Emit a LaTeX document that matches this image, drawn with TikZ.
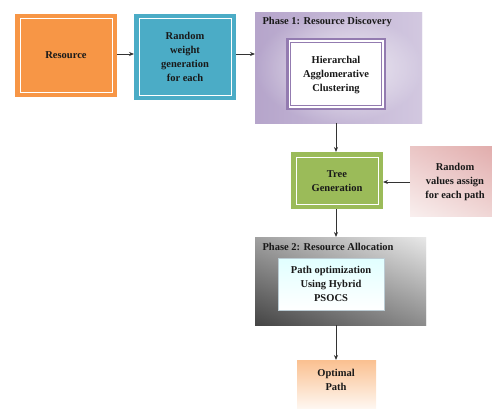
\documentclass[tikz,border=0pt]{standalone}
\usepackage{fontspec}
\setmainfont{Liberation Serif}
\usetikzlibrary{arrows.meta,positioning}
\definecolor{orng}{HTML}{F79646}
\definecolor{blu}{HTML}{4BACC6}
\definecolor{grn}{HTML}{9BBB59}
\definecolor{purp}{HTML}{8064A2}
\definecolor{lpurp}{HTML}{B9A9D0}
\definecolor{pnk}{HTML}{D99594}
\tikzset{
  lbl/.style={font=\fontsize{10.5}{14}\selectfont\bfseries, align=center, text=black!90},
  arr/.style={-{Stealth[length=5pt,width=4pt]}, line width=0.8pt, black!80},
}
\begin{document}
\begin{tikzpicture}[x=1pt,y=1pt]
\useasboundingbox (0,0) rectangle (492,408);
% Resource
\fill[orng] (15,311) rectangle (117,394);
\draw[white, line width=1pt] (20,316) rectangle (112,389);
\node[lbl] (res) at (66,352.5) {Resource};
% Random weight
\fill[blu] (134,308) rectangle (236,394);
\draw[white, line width=1pt] (139,313) rectangle (231,389);
\node[lbl] (rw) at (185,351) {Random\\weight\\generation\\for each};
\coordinate (rwW) at (134,354);
\coordinate (rwE) at (236,354);
\coordinate (resE) at (117,354);
% Phase 1
\shade[inner color=white, outer color=lpurp!80!purp] (255,285) rectangle (422,395);
\shade[left color=purp!50, right color=white, opacity=0.45] (255,285) rectangle (422,395);
\node[lbl, anchor=north west] (ph1) at (259,394) {Phase 1: Resource Discovery};
\fill[purp!85] (286,298) rectangle (386,370);
\fill[white] (288.5,300.5) rectangle (383.5,367.5);
\draw[purp!85, line width=1pt] (290.5,302.5) rectangle (381.5,365.5);
\node[lbl] (hac) at (336,333) {Hierarchal\\Agglomerative\\Clustering};
\coordinate (ph1W) at (255,354);
\coordinate (ph1S) at (336,285);
% Tree
\fill[grn] (291,199) rectangle (383,256);
\draw[white, line width=1pt] (296,204) rectangle (378,251);
\node[lbl] (tree) at (337,227) {Tree\\Generation};
\coordinate (treeN) at (336,256);
\coordinate (treeS) at (336,199);
\coordinate (treeE) at (383,226);
% Random values
\shade[top color=pnk!90, bottom color=pnk!25] (410,192) rectangle (495,262);
\shade[left color=white, right color=pnk!60, opacity=0.4] (410,192) rectangle (495,262);
\node[lbl] (rv) at (455,226) {Random\\values assign\\for each path};
\coordinate (rvW) at (410,226);
% Phase 2
\shade[shading angle=135, top color=black!15, bottom color=black!75] (255,83) rectangle (426,171);
\shade[left color=black!70, right color=white, opacity=0.4] (255,83) rectangle (426,171);
\node[lbl, anchor=north west] (ph2) at (259,168) {Phase 2: Resource Allocation};
\shade[top color=cyan!12, bottom color=white, draw=cyan!25!gray!50] (278,98) rectangle (384,150);
\node[lbl] (pso) at (331,124) {Path optimization\\Using Hybrid\\PSOCS};
\coordinate (ph2N) at (336,171);
\coordinate (ph2S) at (336,83);
% Optimal
\shade[top color=orng!60, bottom color=orng!8] (297,0) rectangle (376,48);
\node[lbl] (opt) at (336,28) {Optimal\\Path};
\coordinate (optN) at (336,48);
% arrows
\draw[arr] (resE) -- (rwW);
\draw[arr] (rwE) -- (ph1W);
\draw[arr] (ph1S) -- (treeN);
\draw[arr] (rvW) -- (treeE);
\draw[arr] (treeS) -- (ph2N);
\draw[arr] (ph2S) -- (optN);
\end{tikzpicture}
\end{document}
